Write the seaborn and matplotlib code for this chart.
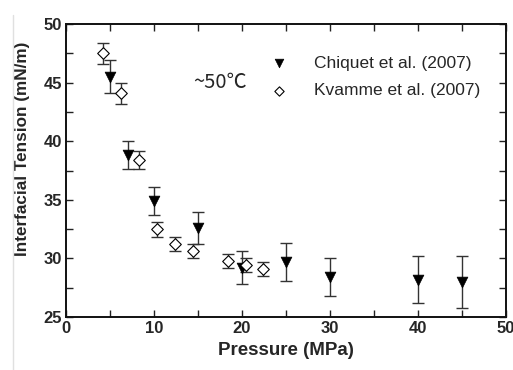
import numpy as np
import pandas as pd
import matplotlib
matplotlib.use("Agg")
import matplotlib.pyplot as plt
from matplotlib.lines import Line2D
import seaborn as sns

# Chiquet et al. (2007)
chiquet_p = [5, 7, 10, 15, 20, 25, 30, 40, 45]
chiquet_ift = [45.5, 38.8, 34.9, 32.6, 29.2, 29.7, 28.4, 28.2, 28.0]
chiquet_err = [1.4, 1.2, 1.2, 1.4, 1.4, 1.6, 1.6, 2.0, 2.2]

# Kvamme et al. (2007)
kvamme_p = [4.2, 6.25, 8.3, 10.3, 12.4, 14.4, 18.45, 20.45, 22.4]
kvamme_ift = [47.5, 44.1, 38.4, 32.5, 31.2, 30.6, 29.8, 29.4, 29.1]
kvamme_err = [0.9, 0.9, 0.8, 0.65, 0.6, 0.6, 0.6, 0.6, 0.6]

sns.set_style("ticks")
plt.rcParams['font.family'] = ['Liberation Sans', 'DejaVu Sans']

fig, ax = plt.subplots(figsize=(5.13, 3.70), dpi=100)
fig.subplots_adjust(left=0.1287, right=0.9864, top=0.935, bottom=0.1432)

chiq = pd.DataFrame({'p': chiquet_p, 'ift': chiquet_ift})
kvam = pd.DataFrame({'p': kvamme_p, 'ift': kvamme_ift})

ax.errorbar(chiquet_p, chiquet_ift, yerr=chiquet_err, fmt='none',
            ecolor='#333333', elinewidth=1, capsize=4, capthick=1, zorder=2)
ax.errorbar(kvamme_p, kvamme_ift, yerr=kvamme_err, fmt='none',
            ecolor='#333333', elinewidth=1, capsize=4, capthick=1, zorder=2)

sns.scatterplot(data=chiq, x='p', y='ift', ax=ax, marker='v', s=60,
                color='black', edgecolor='black', linewidth=0.5,
                label='Chiquet et al. (2007)', zorder=3)
sns.scatterplot(data=kvam, x='p', y='ift', ax=ax, marker='D', s=35,
                facecolor='white', edgecolor='black', linewidth=0.8,
                label='Kvamme et al. (2007)', zorder=3)

ax.set_xlim(0, 50)
ax.set_ylim(25, 50)
ax.set_xticks([0, 10, 20, 30, 40, 50])
ax.set_xticks([5, 15, 25, 35, 45], minor=True)
ax.set_yticks([25, 30, 35, 40, 45, 50])
ax.set_yticks([27.5, 32.5, 37.5, 42.5, 47.5], minor=True)
ax.tick_params(which='both', direction='in', top=True, right=True,
               length=5, width=1, color='#222222')
ax.tick_params(which='major', labelsize=12, pad=3)
for lab in ax.get_xticklabels() + ax.get_yticklabels():
    lab.set_fontweight('bold')
for s in ax.spines.values():
    s.set_visible(True)
    s.set_linewidth(1.4)
    s.set_color('#111111')

ax.set_xlabel('Pressure (MPa)', fontsize=13.5, fontweight='bold', labelpad=4)
ax.set_ylabel('Interfacial Tension (mN/m)', fontsize=12.3, fontweight='bold')
ax.yaxis.set_label_coords(-0.083, 0.575)

ax.text(0.29, 0.80, '~50℃', transform=ax.transAxes, fontsize=14.5,
        family=['Noto Sans CJK JP', 'DejaVu Sans'], va='center', ha='left')

ax.legend(loc='upper left', bbox_to_anchor=(0.41, 0.945), frameon=False,
          fontsize=12.5, handletextpad=1.0, labelspacing=0.7, markerscale=0.8)

fig.add_artist(Line2D([13 / 513, 13 / 513], [0, 1 - 15 / 370],
                      transform=fig.transFigure, color='#e0e0e0', lw=1))

fig.savefig('out.png', dpi=100)
